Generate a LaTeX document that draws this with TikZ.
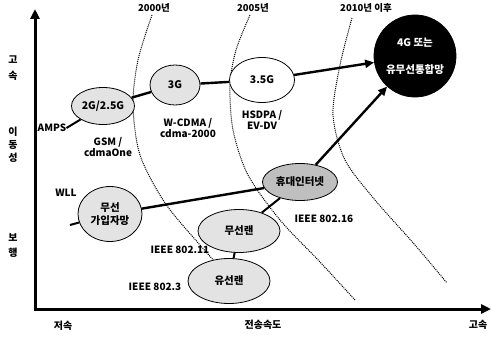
\documentclass[tikz,border=0pt]{standalone}
\usepackage{fontspec}
\setmainfont{Noto Sans CJK KR}
\usetikzlibrary{arrows.meta,shapes.geometric}
\begin{document}
\begin{tikzpicture}[x=1pt,y=-1pt,
  txt/.style={font=\fontsize{10}{11}\selectfont\bfseries, inner sep=0pt, align=center},
  yr/.style={font=\fontsize{9.5}{10}\selectfont\bfseries, inner sep=0pt},
  axl/.style={font=\fontsize{10}{11}\selectfont\bfseries, inner sep=0pt},
  ell/.style={ellipse, draw=black, line width=0.8pt, inner sep=0pt, font=\fontsize{10.5}{13}\selectfont\bfseries, align=center},
  lite/.style={ell, fill=gray!22},
  era/.style={densely dotted, line width=1pt},
  link/.style={line width=2.4pt},
  axis/.style={line width=3pt, -{Triangle[length=10pt,width=9pt]}}
]
\useasboundingbox (0,0) rectangle (492,337);
% era curves
\draw[era] plot[smooth] coordinates {(152,15) (138,60) (133,105) (140,155) (165,203) (200,245) (217,264)};
\draw[era] plot[smooth] coordinates {(250,15) (236,50) (230,85) (233,130) (248,175) (280,220) (320,262) (355,300)};
\draw[era] plot[smooth] coordinates {(352,18) (340,65) (333,115) (345,160) (375,200) (415,245) (447,283)};
\node[yr] (y2000) at (154,8) {2000년};
\node[yr] (y2005) at (253,8) {2005년};
\node[yr] (y2010) at (366,8) {2010년 이후};
% axes
\coordinate (ytop) at (35,9);
\coordinate (xend) at (491,309);
\draw[axis] (35,310.5) -- (ytop);
\draw[axis] (33.5,309) -- (xend);
% axis labels
\node[axl] (yl1) at (13,60) {고};
\node[axl] (yl2) at (13,76) {속};
\node[axl] (yl3) at (13,132) {이};
\node[axl] (yl4) at (13,145) {동};
\node[axl] (yl5) at (13,158) {성};
\node[axl] (yl6) at (13,238) {보};
\node[axl] (yl7) at (13,253) {행};
\node[axl] (xl1) at (63,326) {저속};
\node[axl] (xl2) at (263,325) {전송속도};
\node[axl] (xl3) at (478,325) {고속};
% nodes
\node[lite, minimum width=63pt, minimum height=37pt] (g2) at (103,106) {2G/2.5G};
\node[lite, minimum width=50pt, minimum height=40pt] (g3) at (175,85) {3G};
\node[ell, fill=white, minimum width=65pt, minimum height=45pt] (g35) at (262,80) {3.5G};
\node[ell, fill=black, text=white, minimum width=80pt, minimum height=82pt, font=\fontsize{10.5}{27}\selectfont\bfseries] (g4) at (415,56) {4G 또는\\유무선통합망};
\node[lite, minimum width=64pt, minimum height=55pt] (wll) at (110,214) {무선\\가입자망};
\node[ell, fill=gray!50, minimum width=75pt, minimum height=37pt] (wibro) at (300,182) {휴대인터넷};
\node[lite, minimum width=82pt, minimum height=43pt] (wlan) at (239,231) {무선랜};
\node[lite, minimum width=82pt, minimum height=45pt] (lan) at (229,281) {유선랜};
% labels
\node[txt] (amps) at (52,128) {AMPS};
\node[txt] (gsm) at (108,147) {GSM /\\cdmaOne};
\node[txt] (wcdma) at (188,128) {W-CDMA /\\cdma-2000};
\node[txt] (hsdpa) at (262,120) {HSDPA /\\EV-DV};
\node[txt] (wllt) at (66,193) {WLL};
\node[txt] (i16) at (324,219) {IEEE 802.16};
\node[txt] (i11) at (180,250) {IEEE 802.11};
\node[txt] (i3) at (155,287) {IEEE 802.3};
\coordinate (wllin) at (70,225);
% connectors
\draw[line width=2pt] (amps.east) -- (g2);
\draw[link] (g2) -- (g3);
\draw[link] (g3) -- (g35);
\draw[link, -{Triangle[length=9pt,width=8pt]}] (g35) -- (g4);
\draw[line width=2pt] (wllin) -- (wll);
\draw[link] (wll) -- (wibro);
\draw[link, -{Triangle[length=9pt,width=8pt]}] (wibro) -- (g4);
\draw[line width=2pt] (wlan) -- (wibro);
\draw[line width=2pt] (lan) -- (wlan);
\end{tikzpicture}
\end{document}
